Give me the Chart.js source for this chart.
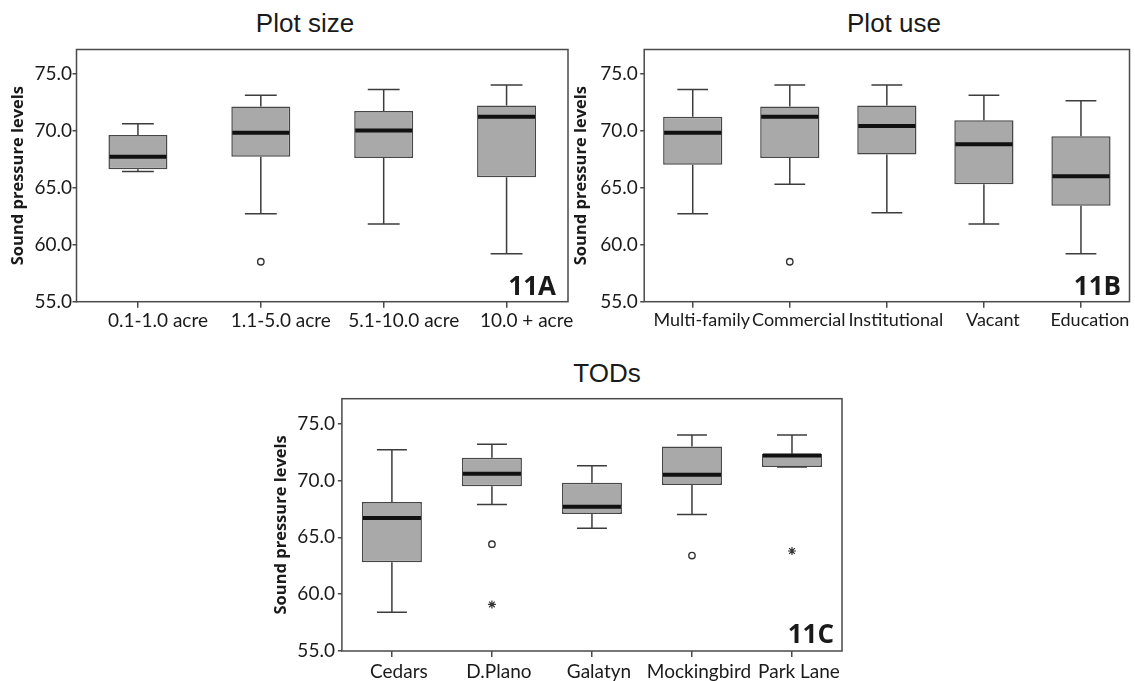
<!DOCTYPE html>
<html>
<head>
<meta charset="utf-8">
<script src="https://cdn.jsdelivr.net/npm/chart.js@4.4.1/dist/chart.umd.min.js"></script>
<style>
  html, body { margin: 0; padding: 0; background: #ffffff; }
  body { width: 1135px; height: 681px; position: relative; overflow: hidden; }
  .cv { position: absolute; }
  .ptitle { position: absolute; font-family: "Liberation Sans", Arial, sans-serif; font-size: 26px; line-height: 26px; color: #1a1a1a; transform: translateX(-50%); white-space: nowrap; }
</style>
</head>
<body>
<div class="ptitle" style="left:305px; top:10px;">Plot size</div>
<div class="ptitle" style="left:894px; top:10px;">Plot use</div>
<div class="ptitle" style="left:607px; top:360px;">TODs</div>
<canvas id="cA" class="cv" width="600" height="340" style="left:0px; top:0px;"></canvas>
<canvas id="cB" class="cv" width="570" height="340" style="left:565px; top:0px;"></canvas>
<canvas id="cC" class="cv" width="620" height="341" style="left:260px; top:340px;"></canvas>
<script>
// ---------- data ----------
const yTicks = [55, 60, 65, 70, 75];
const yAxisTitle = 'Sound pressure levels';

// 11A  Plot size
const sizeCategories = ['0.1-1.0 acre', '1.1-5.0 acre', '5.1-10.0 acre', '10.0 + acre'];
const sizeMin    = [66.4, 62.7, 61.8, 59.2];
const sizeQ1     = [66.6, 67.7, 67.6, 65.9];
const sizeMedian = [67.7, 69.8, 70.0, 71.2];
const sizeQ3     = [69.6, 72.1, 71.7, 72.2];
const sizeMax    = [70.6, 73.1, 73.6, 74.0];
const sizeCircleCats = ['1.1-5.0 acre'];
const sizeCircleVals = [58.5];
const sizeStarCats = [];
const sizeStarVals = [];

// 11B  Plot use
const useCategories = ['Multi-family', 'Commercial', 'Institutional', 'Vacant', 'Education'];
const useMin    = [62.7, 65.3, 62.8, 61.8, 59.2];
const useQ1     = [67.0, 67.6, 67.9, 65.3, 63.4];
const useMedian = [69.8, 71.2, 70.4, 68.8, 66.0];
const useQ3     = [71.2, 72.1, 72.2, 70.9, 69.5];
const useMax    = [73.6, 74.0, 74.0, 73.1, 72.6];
const useCircleCats = ['Commercial'];
const useCircleVals = [58.5];
const useStarCats = [];
const useStarVals = [];

// 11C  TODs
const todCategories = ['Cedars', 'D.Plano', 'Galatyn', 'Mockingbird', 'Park Lane'];
const todMin    = [58.4, 67.9, 65.8, 67.0, 71.2];
const todQ1     = [62.8, 69.5, 67.05, 69.6, 71.2];
const todMedian = [66.7, 70.6, 67.7, 70.5, 72.2];
const todQ3     = [68.1, 72.0, 69.8, 73.0, 72.35];
const todMax    = [72.7, 73.2, 71.3, 74.0, 74.0];
const todCircleCats = ['D.Plano', 'Mockingbird'];
const todCircleVals = [64.4, 63.4];
const todStarCats = ['D.Plano', 'Park Lane'];
const todStarVals = [59.1, 63.8];

// ---------- chart builder ----------
Chart.defaults.font.family = 'Lato, "Open Sans", sans-serif';
Chart.defaults.color = '#1a1a1a';

function boxPartsPlugin(mins, meds, maxs, label, cfg) {
  return {
    id: 'boxParts',
    afterDatasetsDraw(chart) {
      const ctx = chart.ctx;
      const y = chart.scales.y;
      const meta = chart.getDatasetMeta(0);
      ctx.save();
      meta.data.forEach((bar, i) => {
        const props = bar.getProps(['x', 'y', 'base', 'width'], true);
        const x = props.x, w = props.width;
        const top = Math.min(props.y, props.base), bottom = Math.max(props.y, props.base);
        const capW = w * cfg.capFrac;
        const yMax = y.getPixelForValue(maxs[i]);
        const yMin = y.getPixelForValue(mins[i]);
        const yMed = y.getPixelForValue(meds[i]);
        ctx.strokeStyle = '#3c3c3c';
        ctx.lineWidth = 1.5;
        ctx.beginPath();
        ctx.moveTo(x, top); ctx.lineTo(x, yMax);
        ctx.moveTo(x - capW / 2, yMax); ctx.lineTo(x + capW / 2, yMax);
        ctx.moveTo(x, bottom); ctx.lineTo(x, yMin);
        ctx.moveTo(x - capW / 2, yMin); ctx.lineTo(x + capW / 2, yMin);
        ctx.stroke();
        ctx.strokeStyle = '#111111';
        ctx.lineWidth = 4;
        ctx.beginPath();
        ctx.moveTo(x - w / 2 + 1, yMed); ctx.lineTo(x + w / 2 - 1, yMed);
        ctx.stroke();
      });
      const a = chart.chartArea;
      ctx.strokeStyle = '#4a4a4a';
      ctx.lineWidth = 1.5;
      ctx.strokeRect(a.left, a.top, a.right - a.left, a.bottom - a.top);
      ctx.font = 'bold 26px "Open Sans", sans-serif';
      ctx.fillStyle = '#1a1a1a';
      ctx.textAlign = 'right';
      ctx.textBaseline = 'alphabetic';
      ctx.fillText(label, a.right - cfg.labelDx, a.bottom - cfg.labelDy);
      ctx.restore();
    }
  };
}

function makeBoxChart(id, cats, mins, q1s, meds, q3s, maxs, cCats, cVals, sCats, sVals, label, cfg) {
  new Chart(document.getElementById(id), {
    type: 'bar',
    data: {
      labels: cats,
      datasets: [
        {
          type: 'bar',
          data: cats.map((c, i) => [q1s[i], q3s[i]]),
          backgroundColor: '#a9a9a9',
          borderColor: '#474747',
          borderWidth: 1.5,
          borderSkipped: false,
          barPercentage: cfg.barPct,
          categoryPercentage: 1,
          order: 2
        },
        {
          type: 'scatter',
          data: cCats.map((c, i) => ({ x: c, y: cVals[i] })),
          pointStyle: 'circle',
          pointRadius: 3.2,
          backgroundColor: '#ffffff',
          borderColor: '#333333',
          borderWidth: 1.4,
          order: 1
        },
        {
          type: 'scatter',
          data: sCats.map((c, i) => ({ x: c, y: sVals[i] })),
          pointStyle: 'star',
          pointRadius: 4,
          backgroundColor: '#333333',
          borderColor: '#333333',
          borderWidth: 1.2,
          order: 1
        }
      ]
    },
    options: {
      responsive: false,
      animation: false,
      events: [],
      layout: { padding: { left: 0, top: cfg.padTop, right: cfg.padRight, bottom: 0 } },
      plugins: { legend: { display: false }, tooltip: { enabled: false }, title: { display: false } },
      scales: {
        x: {
          type: 'category',
          offset: true,
          border: { display: false },
          grid: { display: true, offset: false, drawOnChartArea: false, drawTicks: true, tickLength: 6, color: '#4a4a4a', lineWidth: 1.5 },
          ticks: { padding: cfg.xTickPad, labelOffset: cfg.labelOffset, font: { size: cfg.xFont }, color: '#1a1a1a', maxRotation: 0, autoSkip: false },
          afterFit: (s) => { s.height = cfg.xHeight; }
        },
        y: {
          type: 'linear',
          min: 55,
          max: cfg.yMax,
          border: { display: false },
          grid: { display: true, drawOnChartArea: false, drawTicks: true, tickLength: 4, color: '#4a4a4a', lineWidth: 1.5 },
          ticks: { padding: cfg.yTickPad, font: { size: 19 }, color: '#1a1a1a', callback: (v) => Number(v).toFixed(1) },
          afterBuildTicks: (s) => { s.ticks = yTicks.map(v => ({ value: v })); },
          title: { display: true, text: yAxisTitle, font: { family: '"Open Sans", sans-serif', size: 16.5, weight: 'bold' }, color: '#1a1a1a', padding: { top: cfg.titlePad, bottom: 0 } },
          afterFit: (s) => { s.width = cfg.yWidth; }
        }
      }
    },
    plugins: [boxPartsPlugin(mins, meds, maxs, label, cfg)]
  });
}

makeBoxChart('cA', sizeCategories, sizeMin, sizeQ1, sizeMedian, sizeQ3, sizeMax,
  sizeCircleCats, sizeCircleVals, sizeStarCats, sizeStarVals, '11A',
  { padTop: 49.5, padRight: 32, yWidth: 76.5, xHeight: 38.3, yMax: 77.1, titlePad: 8.5, yTickPad: 0.5, xTickPad: 1.6, xFont: 19, labelOffset: 20, barPct: 0.48, capFrac: 0.54, labelDx: 12, labelDy: 7 });

makeBoxChart('cB', useCategories, useMin, useQ1, useMedian, useQ3, useMax,
  useCircleCats, useCircleVals, useStarCats, useStarVals, '11B',
  { padTop: 49.5, padRight: 5.5, yWidth: 79.2, xHeight: 38.3, yMax: 77.1, titlePad: 6.5, yTickPad: 2.5, xTickPad: 2, xFont: 18, labelOffset: 9, barPct: 0.61, capFrac: 0.52, labelDx: 8.5, labelDy: 7 });

makeBoxChart('cC', todCategories, todMin, todQ1, todMedian, todQ3, todMax,
  todCircleCats, todCircleVals, todStarCats, todStarVals, '11C',
  { padTop: 58.7, padRight: 38, yWidth: 81.9, xHeight: 30, yMax: 77.2, titlePad: 11.8, yTickPad: 3, xTickPad: 3, xFont: 19, labelOffset: 7, barPct: 0.6, capFrac: 0.5, labelDx: 8, labelDy: 8 });
</script>
</body>
</html>
